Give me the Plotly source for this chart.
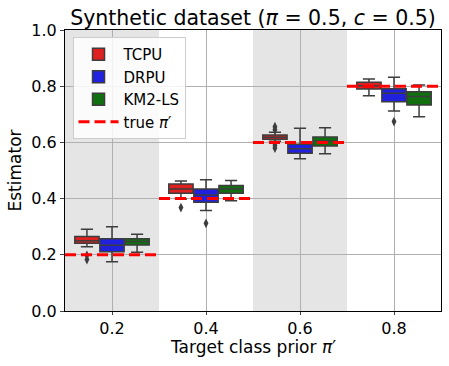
import plotly.graph_objects as go

priors = [0.2, 0.4, 0.6, 0.8]
tick_labels = ["0.2", "0.4", "0.6", "0.8"]
methods = ["TCPU", "DRPU", "KM2-LS"]

# box stats per method, one value per target prior
lower = {"TCPU": [0.229, 0.399, 0.604, 0.766],
         "DRPU": [0.175, 0.358, 0.542, 0.712],
         "KM2-LS": [0.209, 0.392, 0.560, 0.691]}
q1 = {"TCPU": [0.241, 0.419, 0.611, 0.790],
      "DRPU": [0.211, 0.387, 0.561, 0.745],
      "KM2-LS": [0.235, 0.419, 0.587, 0.733]}
med = {"TCPU": [0.250, 0.434, 0.618, 0.802],
       "DRPU": [0.234, 0.413, 0.577, 0.775],
       "KM2-LS": [0.247, 0.434, 0.605, 0.763]}
q3 = {"TCPU": [0.265, 0.452, 0.626, 0.814],
      "DRPU": [0.257, 0.434, 0.593, 0.791],
      "KM2-LS": [0.257, 0.447, 0.619, 0.780]}
upper = {"TCPU": [0.291, 0.463, 0.636, 0.826],
         "DRPU": [0.300, 0.467, 0.650, 0.832],
         "KM2-LS": [0.273, 0.464, 0.652, 0.804]}
# outliers: (prior index, value)
outliers = {"TCPU": [(0, 0.198), (0, 0.183), (1, 0.368), (2, 0.656), (2, 0.645),
                     (2, 0.590), (2, 0.580)],
            "DRPU": [(1, 0.312), (3, 0.674)],
            "KM2-LS": []}

colors = {"TCPU": "#df2020", "DRPU": "#2020df", "KM2-LS": "#107010"}
edge = "#3d3d3d"
font_family = "DejaVu Sans"
width = 0.8 / 3
offsets = {m: (i - 1) * width for i, m in enumerate(methods)}

fig = go.Figure()

for m in methods:
    xs = [i + offsets[m] for i in range(len(priors))]
    fig.add_trace(go.Box(
        name=m, x=xs, q1=q1[m], median=med[m], q3=q3[m],
        lowerfence=lower[m], upperfence=upper[m],
        width=width * 0.97, whiskerwidth=0.5,
        fillcolor=colors[m], line=dict(color=edge, width=1.5),
        boxpoints=False, hoverinfo="y"))
    if outliers[m]:
        fig.add_trace(go.Scatter(
            x=[o[0] + offsets[m] for o in outliers[m]],
            y=[o[1] for o in outliers[m]],
            mode="markers", showlegend=False,
            marker=dict(symbol="diamond-tall", size=7, color=edge)))

# true prior dashed lines
lx, ly = [], []
for i, p in enumerate(priors):
    lx += [i - 0.5, i + 0.5, None]
    ly += [p, p, None]
fig.add_trace(go.Scatter(x=lx, y=ly, mode="lines", name="true <i>π</i>′",
                         line=dict(color="#ff0000", width=3, dash="11px,5px")))

# shaded alternating bands
for i in range(0, len(priors), 2):
    fig.add_shape(type="rect", xref="x", yref="paper", x0=i - 0.5, x1=i + 0.5,
                  y0=0, y1=1, fillcolor="#e5e5e5", line_width=0, layer="below")

# axis labels as annotations for tighter placement
label_font = dict(family=font_family, size=17, color="black")
fig.add_annotation(text="Target class prior <i>π</i>′", xref="paper", yref="paper",
                   x=0.5, y=-0.127, xanchor="center", yanchor="middle",
                   showarrow=False, font=label_font)
fig.add_annotation(text="Estimator", xref="paper", yref="paper",
                   x=-0.133, y=0.5, xanchor="center", yanchor="middle",
                   textangle=-90, showarrow=False, font=label_font)

fig.update_layout(
    width=449, height=366,
    margin=dict(l=65, r=8, t=30, b=55, autoexpand=False),
    paper_bgcolor="white", plot_bgcolor="white",
    font=dict(family=font_family, size=15, color="black"),
    title=dict(text="Synthetic dataset (<i>π</i> = 0.5, <i>c</i> = 0.5)",
               x=0.5, xref="paper", xanchor="center",
               y=1, yref="paper", yanchor="bottom", pad=dict(b=5),
               font=dict(family=font_family, size=20.5)),
    showlegend=True,
    legend=dict(x=0.02, y=0.975, xanchor="left", yanchor="top",
                bgcolor="rgba(255,255,255,0.85)", bordercolor="#cccccc",
                borderwidth=1, font=dict(family=font_family, size=15),
                tracegroupgap=0, itemwidth=40),
    xaxis=dict(range=[-0.5, 3.5], tickvals=list(range(len(priors))),
               ticktext=tick_labels, showgrid=True, gridcolor="#b0b0b0",
               showline=True, linecolor="black", mirror=True, ticks="outside",
               ticklen=3, zeroline=False,
               tickfont=dict(family=font_family, size=16),
               automargin=False),
    yaxis=dict(range=[0, 1.0], dtick=0.2, tickformat=".1f", showgrid=True,
               gridcolor="#b0b0b0", showline=True, linecolor="black",
               mirror=True, ticks="outside", ticklen=4, zeroline=False,
               automargin=False, tickfont=dict(family=font_family, size=16)),
)

fig.write_html("out.html", config={"displayModeBar": False},
               post_script="document.body.style.margin = '0';")
